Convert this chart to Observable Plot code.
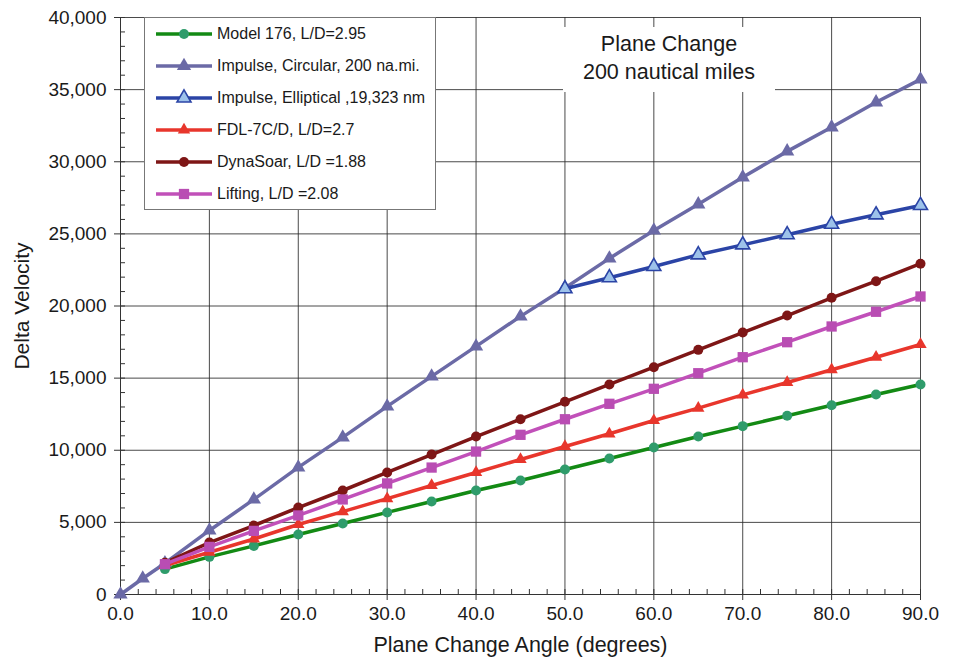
<!DOCTYPE html>
<html>
<head>
<meta charset="utf-8">
<script src="https://cdn.jsdelivr.net/npm/d3@7"></script>
<script src="https://cdn.jsdelivr.net/npm/@observablehq/plot@0.6"></script>
<style>
  html, body { margin: 0; padding: 0; background: white; }
  #wrap { position: relative; width: 955px; height: 661px; font-family: "Liberation Sans", Arial, sans-serif; }
  #legend { position: absolute; left: 144px; top: 17px; width: 290px; height: 191px; border: 1px solid #777; background: white; }
  .row { position: relative; height: 32px; }
  .row svg { position: absolute; left: 0; top: 0; }
  .row span { position: absolute; left: 72px; top: 0; line-height: 32px; font-size: 16px; color: #1a1a1a; white-space: nowrap; }
  #title { position: absolute; left: 563px; top: 27px; width: 212px; height: 65px; background: white; text-align: center; font-size: 21.5px; color: #1a1a1a; line-height: 28px; padding-top: 3px; box-sizing: border-box; }
</style>
</head>
<body>
<div id="wrap"></div>
<script>
// ---- Data ----
const angles = [5, 10, 15, 20, 25, 30, 35, 40, 45, 50, 55, 60, 65, 70, 75, 80, 85, 90];
const circAngles = [0, 2.5, 5, 10, 15, 20, 25, 30, 35, 40, 45, 50, 55, 60, 65, 70, 75, 80, 85, 90];
const ellAngles = [50, 55, 60, 65, 70, 75, 80, 85, 90];

const model176 = [1760, 2610, 3370, 4160, 4920, 5690, 6450, 7210, 7900, 8670, 9430, 10190, 10950, 11670, 12390, 13120, 13860, 14560];
const impulseCircular = [0, 1110, 2170, 4440, 6590, 8810, 10890, 13040, 15120, 17200, 19280, 21250, 23300, 25240, 27050, 28920, 30720, 32390, 34120, 35710];
const impulseElliptical = [21200, 21960, 22740, 23550, 24240, 24940, 25670, 26320, 26970];
const fdl7cd = [2010, 2930, 3850, 4850, 5750, 6650, 7560, 8460, 9360, 10260, 11140, 12060, 12920, 13840, 14700, 15580, 16450, 17330];
const dynaSoar = [2200, 3600, 4780, 6030, 7210, 8460, 9700, 10950, 12150, 13360, 14560, 15760, 16960, 18160, 19340, 20570, 21720, 22930];
const lifting = [2100, 3300, 4410, 5480, 6590, 7700, 8800, 9910, 11070, 12150, 13220, 14260, 15340, 16450, 17490, 18580, 19600, 20660];

const seriesNames = [
  "Model 176, L/D=2.95",
  "Impulse, Circular, 200 na.mi.",
  "Impulse, Elliptical ,19,323 nm",
  "FDL-7C/D, L/D=2.7",
  "DynaSoar, L/D =1.88",
  "Lifting, L/D =2.08"
];
const xTicks = [0, 10, 20, 30, 40, 50, 60, 70, 80, 90];
const xMinorTicks = d3.range(0, 91, 2);
const yTicks = [0, 5000, 10000, 15000, 20000, 25000, 30000, 35000, 40000];
const yMinorTicks = d3.range(0, 40001, 1000);
const titleLines = ["Plane Change", "200 nautical miles"];
const xLabel = "Plane Change Angle (degrees)";
const yLabel = "Delta Velocity";

// ---- Styles per series ----
const styles = [
  {line: "#138a14", fill: "#2f9c6b", stroke: "none", symbol: "circle", r: 5},
  {line: "#6b6aa6", fill: "#6b6aa6", stroke: "none", symbol: "triangle", r: 5.3},
  {line: "#2b44a6", fill: "#9dc2ea", stroke: "#2b44a6", symbol: "triangle", r: 5.2},
  {line: "#e8362c", fill: "#e8362c", stroke: "none", symbol: "triangle", r: 4.6},
  {line: "#7e1616", fill: "#7e1616", stroke: "none", symbol: "circle", r: 5},
  {line: "#c150b9", fill: "#b94db3", stroke: "none", symbol: "square", r: 5.8}
];
const seriesX = [angles, circAngles, ellAngles, angles, angles, angles];
const seriesY = [model176, impulseCircular, impulseElliptical, fdl7cd, dynaSoar, lifting];

const tables = seriesY.map((ys, i) => ys.map((v, j) => ({x: seriesX[i][j], y: v})));

const seriesMarks = tables.flatMap((t, i) => {
  const s = styles[i];
  return [
    Plot.line(t, {x: "x", y: "y", stroke: s.line, strokeWidth: 3.5}),
    Plot.dot(t, {x: "x", y: "y", symbol: s.symbol, r: s.r, fill: s.fill, stroke: s.stroke, strokeWidth: 1.6})
  ];
});

const fmtY = d3.format(",");

const chart = Plot.plot({
  width: 955,
  height: 661,
  marginLeft: 120,
  marginRight: 35,
  marginTop: 17,
  marginBottom: 67,
  style: {fontFamily: "'Liberation Sans', Arial, sans-serif", fontSize: "19px", color: "#1a1a1a", background: "white", overflow: "visible"},
  x: {domain: [0, 90]},
  y: {domain: [0, 40000]},
  marks: [
    Plot.gridX(xTicks.filter(d => d > 0), {stroke: "#2a2a2a", strokeOpacity: 0.85, strokeWidth: 1}),
    Plot.gridY(yTicks.filter(d => d > 0), {stroke: "#2a2a2a", strokeOpacity: 0.85, strokeWidth: 1}),
    Plot.axisY(yMinorTicks, {tickSize: 5, dx: 5, tickFormat: () => "", label: null, stroke: "#333"}),
    Plot.axisX(xMinorTicks, {tickSize: 5, dy: -5, tickFormat: () => "", label: null, stroke: "#333"}),
    Plot.axisY(yTicks, {tickSize: 6, tickPadding: 8, tickFormat: fmtY, label: null, fontSize: 19, stroke: "#333"}),
    Plot.axisX(xTicks, {tickSize: 6, tickPadding: 6, tickFormat: d => d.toFixed(1), label: null, fontSize: 19, stroke: "#333"}),
    Plot.ruleX([0], {stroke: "#333"}),
    Plot.ruleY([0], {stroke: "#333"}),
    Plot.text([yLabel], {frameAnchor: "left", dx: -98, rotate: -90, textAnchor: "middle", lineAnchor: "middle", fontSize: 21, fill: "#1a1a1a"}),
    Plot.text([xLabel], {frameAnchor: "bottom", dy: 51, textAnchor: "middle", lineAnchor: "middle", fontSize: 21.5, fill: "#1a1a1a"}),
    ...seriesMarks
  ]
});

const wrap = document.getElementById("wrap");
wrap.appendChild(chart);

// ---- Legend (HTML overlay) ----
const legend = document.createElement("div");
legend.id = "legend";
seriesNames.forEach((name, i) => {
  const s = styles[i];
  const row = document.createElement("div");
  row.className = "row";
  const svg = d3.create("svg").attr("width", 70).attr("height", 32);
  svg.append("line").attr("x1", 11).attr("x2", 67).attr("y1", 16).attr("y2", 16)
    .attr("stroke", s.line).attr("stroke-width", 3.5);
  const sym = {circle: d3.symbolCircle, triangle: d3.symbolTriangle, square: d3.symbolSquare}[s.symbol];
  svg.append("path").attr("transform", "translate(39,16)")
    .attr("d", d3.symbol(sym, s.r * s.r * Math.PI)())
    .attr("fill", s.fill).attr("stroke", s.stroke).attr("stroke-width", 1.6);
  row.appendChild(svg.node());
  const span = document.createElement("span");
  span.textContent = name;
  row.appendChild(span);
  legend.appendChild(row);
});
wrap.appendChild(legend);

// ---- Title box ----
const title = document.createElement("div");
title.id = "title";
title.innerHTML = titleLines.map(t => `<div>${t}</div>`).join("");
wrap.appendChild(title);
</script>
</body>
</html>
